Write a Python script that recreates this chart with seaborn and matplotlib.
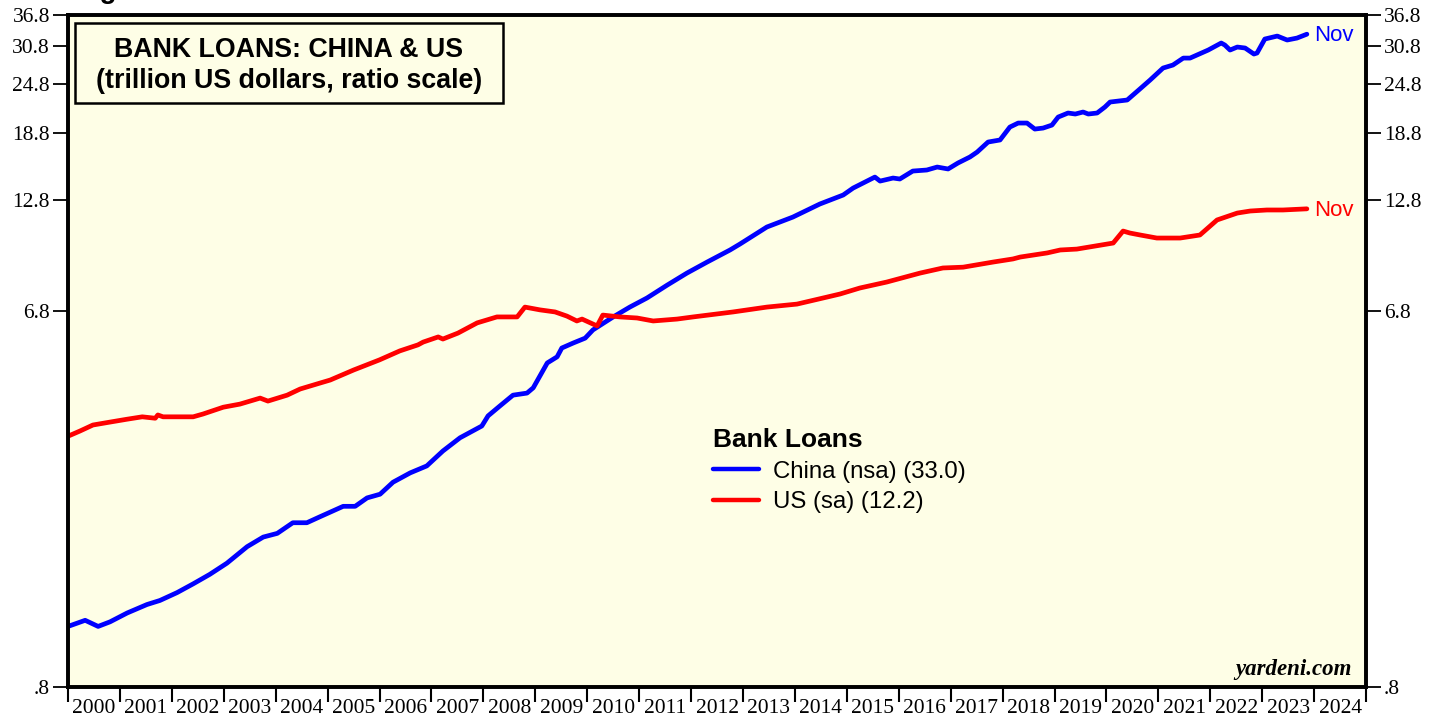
import numpy as np
import pandas as pd
import matplotlib
matplotlib.use("Agg")
import matplotlib.pyplot as plt
import matplotlib.patches as mpatches
from matplotlib.ticker import FixedLocator, NullFormatter, NullLocator
import seaborn as sns

# -----------------------------
# Data (trillion US dollars, decimal years)
# -----------------------------
china_dates = [2000.00, 2000.33, 2000.58, 2000.81, 2001.14, 2001.52, 2001.77, 2002.10,
               2002.41, 2002.73, 2003.06, 2003.45, 2003.76, 2004.03, 2004.33, 2004.60,
               2004.85, 2005.30, 2005.53, 2005.76, 2006.01, 2006.26, 2006.59, 2006.91,
               2007.22, 2007.55, 2007.97, 2008.09, 2008.32, 2008.57, 2008.84, 2008.96,
               2009.23, 2009.42, 2009.51, 2009.73, 2009.96, 2010.11, 2010.50, 2010.82,
               2011.15, 2011.54, 2011.92, 2012.31, 2012.75, 2012.94, 2013.46, 2013.96,
               2014.48, 2014.93, 2015.12, 2015.54, 2015.64, 2015.89, 2016.02, 2016.27,
               2016.54, 2016.74, 2016.95, 2017.14, 2017.37, 2017.51, 2017.72, 2017.95,
               2018.14, 2018.30, 2018.47, 2018.62, 2018.78, 2018.95, 2019.07, 2019.26,
               2019.40, 2019.55, 2019.65, 2019.82, 2019.97, 2020.07, 2020.40, 2020.62,
               2020.84, 2021.09, 2021.28, 2021.48, 2021.61, 2021.96, 2022.21, 2022.28,
               2022.38, 2022.52, 2022.67, 2022.84, 2022.90, 2023.05, 2023.29, 2023.48,
               2023.67, 2023.86]
china = [1.13, 1.17, 1.13, 1.16, 1.22, 1.28, 1.31, 1.37,
         1.44, 1.52, 1.62, 1.78, 1.88, 1.92, 2.04, 2.04,
         2.11, 2.24, 2.24, 2.35, 2.40, 2.57, 2.71, 2.82,
         3.07, 3.31, 3.54, 3.75, 3.97, 4.22, 4.27, 4.40,
         5.07, 5.25, 5.52, 5.68, 5.84, 6.12, 6.59, 6.97,
         7.34, 7.90, 8.46, 9.01, 9.65, 9.98, 11.00, 11.64,
         12.54, 13.20, 13.73, 14.62, 14.29, 14.54, 14.46, 15.13,
         15.22, 15.48, 15.31, 15.84, 16.39, 16.86, 17.85, 18.06,
         19.44, 19.89, 19.89, 19.22, 19.33, 19.66, 20.58, 21.06,
         20.94, 21.18, 20.94, 21.06, 21.79, 22.42, 22.68, 24.00,
         25.41, 27.21, 27.68, 28.80, 28.80, 30.15, 31.38, 31.02,
         30.15, 30.67, 30.50, 29.47, 29.64, 32.10, 32.65, 31.92,
         32.28, 33.00]

us_dates = [2000.00, 2000.23, 2000.48, 2000.81, 2001.14, 2001.43, 2001.68, 2001.73,
            2001.83, 2002.02, 2002.41, 2002.60, 2002.99, 2003.31, 2003.70, 2003.85,
            2004.22, 2004.47, 2004.85, 2005.05, 2005.50, 2006.00, 2006.39, 2006.74,
            2006.84, 2007.13, 2007.22, 2007.51, 2007.88, 2008.26, 2008.65, 2008.80,
            2009.09, 2009.38, 2009.61, 2009.80, 2009.90, 2010.19, 2010.30, 2010.63,
            2010.96, 2011.27, 2011.73, 2012.04, 2012.81, 2013.46, 2014.04, 2014.62,
            2014.87, 2015.25, 2015.77, 2016.41, 2016.85, 2017.24, 2017.82, 2018.20,
            2018.34, 2018.86, 2019.11, 2019.43, 2020.13, 2020.32, 2020.45, 2020.65,
            2020.97, 2021.17, 2021.42, 2021.80, 2022.13, 2022.52, 2022.77, 2023.09,
            2023.40, 2023.86]
us = [3.34, 3.44, 3.56, 3.62, 3.68, 3.73, 3.70, 3.77,
      3.73, 3.73, 3.73, 3.79, 3.94, 4.01, 4.15, 4.08,
      4.22, 4.37, 4.52, 4.60, 4.87, 5.16, 5.43, 5.62,
      5.71, 5.88, 5.81, 6.01, 6.37, 6.59, 6.59, 6.97,
      6.86, 6.78, 6.62, 6.44, 6.51, 6.26, 6.66, 6.59,
      6.55, 6.44, 6.51, 6.59, 6.78, 6.97, 7.09, 7.38,
      7.51, 7.77, 8.04, 8.46, 8.71, 8.75, 9.01, 9.17,
      9.27, 9.49, 9.65, 9.70, 10.04, 10.75, 10.63, 10.51,
      10.33, 10.33, 10.33, 10.51, 11.45, 11.91, 12.05, 12.12,
      12.12, 12.20]

years = list(range(2000, 2025))
ytick_vals = [0.8, 6.8, 12.8, 18.8, 24.8, 30.8, 36.8]
ytick_labels = [".8", "6.8", "12.8", "18.8", "24.8", "30.8", "36.8"]

china_df = pd.DataFrame({"date": china_dates, "loans": china})
us_df = pd.DataFrame({"date": us_dates, "loans": us})

# -----------------------------
# Style
# -----------------------------
sns.set_style("white")
plt.rcParams["font.family"] = ["Liberation Sans", "DejaVu Sans"]
plt.rcParams["text.color"] = "black"
plt.rcParams["xtick.color"] = "black"
plt.rcParams["ytick.color"] = "black"
plt.rcParams["axes.labelcolor"] = "black"
serif = ["Liberation Serif", "DejaVu Serif"]

BG = "#fefee6"
BLUE = "#0000ff"
RED = "#ff0000"

fig = plt.figure(figsize=(14.41, 7.17), dpi=100)
ax = fig.add_axes([0.0472, 0.0418, 0.9008, 0.9372])
ax.set_facecolor(BG)

sns.lineplot(data=china_df, x="date", y="loans", ax=ax, color=BLUE, linewidth=3.4,
             label="China (nsa) (33.0)", sort=False)
sns.lineplot(data=us_df, x="date", y="loans", ax=ax, color=RED, linewidth=3.4,
             label="US (sa) (12.2)", sort=False)

ax.set_yscale("log")
ax.set_ylim(0.8, 36.8)
ax.set_xlim(2000, 2025)
ax.set_xlabel("")
ax.set_ylabel("")

# y ticks, both sides
ax.yaxis.set_major_locator(FixedLocator(ytick_vals))
ax.yaxis.set_minor_locator(NullLocator())
ax.set_yticklabels(ytick_labels, fontfamily=serif, fontsize=15.5)
ax.tick_params(axis="y", which="major", left=True, direction="out", length=11,
               width=1.3, pad=2, colors="black")

ax2 = ax.twinx()
ax2.set_yscale("log")
ax2.set_ylim(0.8, 36.8)
ax2.yaxis.set_major_locator(FixedLocator(ytick_vals))
ax2.yaxis.set_minor_locator(NullLocator())
ax2.set_yticklabels(ytick_labels, fontfamily=serif, fontsize=15.5)
ax2.tick_params(axis="y", which="major", right=True, direction="out", length=11,
                width=1.3, pad=2, colors="black")

# x ticks: marks at year boundaries, labels centred in each year
ax.xaxis.set_major_locator(FixedLocator(years + [2025]))
ax.xaxis.set_major_formatter(NullFormatter())
ax.xaxis.set_minor_locator(FixedLocator([y + 0.5 for y in years]))
ax.set_xticklabels([str(y) for y in years], minor=True, fontfamily=serif, fontsize=15.5)
ax.tick_params(axis="x", which="major", bottom=True, direction="out", length=11,
               width=1.5, colors="black")
ax.tick_params(axis="x", which="minor", bottom=True, length=0, pad=8.5, colors="black")

for a in (ax, ax2):
    for s in a.spines.values():
        s.set_visible(True)
        s.set_color("black")
        s.set_linewidth(2.6)

# title box
ax.add_patch(mpatches.Rectangle((0.0054, 0.869), 0.3297, 0.119, transform=ax.transAxes,
                                facecolor=BG, edgecolor="black", linewidth=1.8, zorder=5))
ax.text(0.170, 0.925, "BANK LOANS: CHINA & US\n(trillion US dollars, ratio scale)",
        transform=ax.transAxes, ha="center", va="center", fontsize=19.3,
        fontweight="bold", linespacing=1.25, zorder=6)

# end labels
ax.annotate("Nov", (china_dates[-1], china[-1]), xytext=(5, -1), textcoords="offset points",
            color=BLUE, fontsize=16, va="center", ha="left")
ax.annotate("Nov", (us_dates[-1], us[-1]), xytext=(5, -1), textcoords="offset points",
            color=RED, fontsize=16, va="center", ha="left")

# legend
leg = ax.legend(loc="upper left", bbox_to_anchor=(0.497, 0.385), frameon=False,
                title="Bank Loans", fontsize=17.3, handlelength=1.9, handletextpad=0.6,
                labelspacing=0.35, borderaxespad=0, borderpad=0,
                title_fontproperties={"weight": "bold", "size": 19},
                alignment="left")
for line in leg.get_lines():
    line.set_linewidth(3.2)

ax.text(0.989, 0.010, "yardeni.com", transform=ax.transAxes, ha="right", va="bottom",
        fontfamily=serif, fontsize=16.5, fontweight="bold", fontstyle="italic")

# clipped header at the very top of the page
fig.text(0.052, 1.012, "Figure", fontsize=20, fontweight="bold", va="center", ha="left")

fig.savefig("out.png", dpi=100)
